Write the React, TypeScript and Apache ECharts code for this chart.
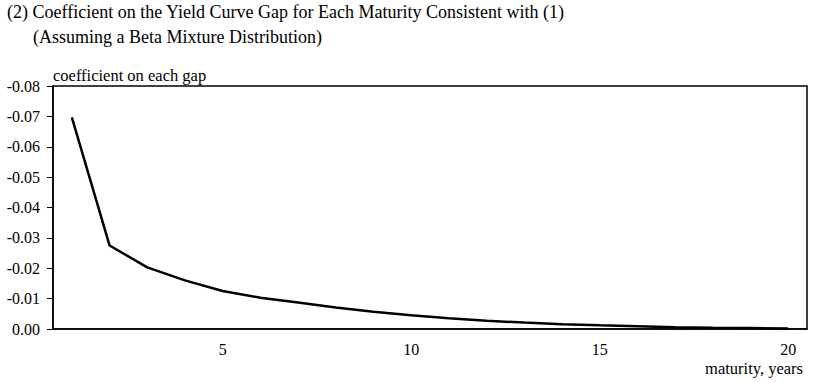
import React, { useEffect, useRef } from "react";
import * as echarts from "echarts";

const maturities = ["1","2","3","4","5","6","7","8","9","10","11","12","13","14","15","16","17","18","19","20"];
const coefficients = [-0.0697, -0.0275, -0.0203, -0.0160, -0.0125, -0.0103, -0.0087, -0.0071, -0.0057, -0.0045, -0.0035, -0.0027, -0.0021, -0.0016, -0.0012, -0.0009, -0.0006, -0.0004, -0.0003, -0.0002];
const titleLine1 = "(2) Coefficient on the Yield Curve Gap for Each Maturity Consistent with (1)";
const titleLine2 = "(Assuming a Beta Mixture Distribution)";
const yAxisTitle = "coefficient on each gap";
const xAxisTitle = "maturity, years";

const FONT = "'Liberation Serif', 'Times New Roman', serif";

export default function App() {
  const ref = useRef<HTMLDivElement>(null);
  useEffect(() => {
    if (!ref.current) return;
    const chart = echarts.init(ref.current, undefined, { renderer: "svg" });
    chart.setOption({
      animation: false,
      backgroundColor: "#ffffff",
      textStyle: { fontFamily: FONT },
      grid: {
        left: 53,
        right: 12,
        top: 86,
        bottom: 53,
        show: true,
        borderColor: "#000",
        borderWidth: 1.5,
      },
      graphic: [
        { type: "text", left: 7, top: 3, style: { text: titleLine1, font: `18px ${FONT}`, fill: "#000", lineHeight: 18 } },
        { type: "text", left: 33, top: 28, style: { text: titleLine2, font: `18px ${FONT}`, fill: "#000", lineHeight: 18 } },
        { type: "text", left: 53, top: 67, style: { text: yAxisTitle, font: `16.5px ${FONT}`, fill: "#000", lineHeight: 16 } },
        { type: "text", right: 16, top: 360, style: { text: xAxisTitle, font: `16.5px ${FONT}`, fill: "#000", lineHeight: 16 } },
      ],
      xAxis: {
        type: "category",
        data: maturities,
        boundaryGap: true,
        axisLine: { lineStyle: { color: "#000", width: 1.5 } },
        axisTick: {
          inside: true,
          length: 5,
          interval: (idx: number) => idx % 5 === 0,
          lineStyle: { color: "#000", width: 1 },
        },
        axisLabel: {
          interval: (idx: number) => (idx + 1) % 5 === 0,
          color: "#000",
          fontSize: 16,
          lineHeight: 16,
          fontFamily: FONT,
          margin: 12,
        },
        splitLine: { show: false },
      },
      yAxis: {
        type: "value",
        min: -0.08,
        max: 0,
        interval: 0.01,
        inverse: true,
        axisLine: { show: true, lineStyle: { color: "#000", width: 1.5 } },
        axisTick: { show: true, length: 6, lineStyle: { color: "#000", width: 1 } },
        axisLabel: {
          color: "#000",
          fontSize: 16,
          fontFamily: FONT,
          margin: 13,
          formatter: (v: number) => (Math.abs(v) < 1e-9 ? "0.00" : v.toFixed(2)),
        },
        splitLine: { show: false },
      },
      series: [
        {
          type: "line",
          data: coefficients,
          symbol: "none",
          lineStyle: { color: "#000", width: 2.5 },
        },
      ],
    });
    return () => chart.dispose();
  }, []);
  return <div ref={ref} style={{ width: 819, height: 382, position: "absolute", left: 0, top: 0 }} />;
}
